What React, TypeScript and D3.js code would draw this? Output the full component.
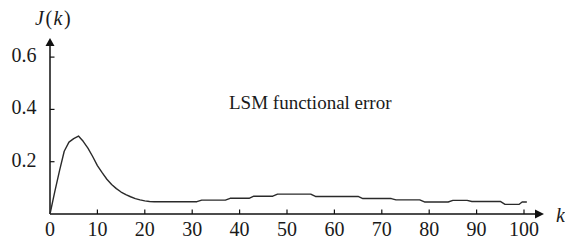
import React from "react";
import * as d3 from "d3";

const kVals = [0, 1, 2, 3, 4, 5, 6, 7, 8, 9, 10, 11, 12, 13, 14, 15, 16, 17, 18, 19, 20, 21, 22, 31, 32, 37, 38, 42, 43, 47, 48, 55, 56, 65, 66, 72, 73, 78, 79, 84, 85, 88, 89, 95, 96, 99, 99.6, 100.6];
const jVals = [0, 0.085, 0.165, 0.24, 0.275, 0.288, 0.298, 0.278, 0.252, 0.22, 0.185, 0.158, 0.133, 0.113, 0.097, 0.084, 0.074, 0.066, 0.059, 0.054, 0.05, 0.048, 0.047, 0.047, 0.053, 0.053, 0.06, 0.06, 0.068, 0.068, 0.076, 0.076, 0.067, 0.067, 0.059, 0.059, 0.054, 0.054, 0.046, 0.046, 0.052, 0.052, 0.048, 0.048, 0.037, 0.037, 0.046, 0.046];
const xTicks = [0, 10, 20, 30, 40, 50, 60, 70, 80, 90, 100];
const yTicks = [0.2, 0.4, 0.6];
const yTickLabels = ["0.2", "0.4", "0.6"];
const curveLabel = "LSM functional error";

export default function App() {
  const W = 565, H = 242;
  const x = d3.scaleLinear().domain([0, 100]).range([50, 524]);
  const y = d3.scaleLinear().domain([0, 0.6]).range([214, 57.1]);
  const pts: [number, number][] = kVals.map((k, i) => [k, jVals[i]]);
  const line = d3.line<[number, number]>().x(d => x(d[0])).y(d => y(d[1]));
  const x0 = x(0), y0 = y(0);
  const ff = "Liberation Serif";
  return (
    <svg width={W} height={H} fontFamily={ff} style={{ position: "absolute", left: 0, top: 0, background: "#fff", fontFamily: ff }}>
      <line x1={x0} y1={y0} x2={537} y2={y0} stroke="#111" strokeWidth={1.5} />
      <line x1={x0} y1={y0} x2={x0} y2={46} stroke="#111" strokeWidth={1.5} />
      <path d={`M${x0 - 4.5},${46} L${x0},${38} L${x0 + 4.5},${46} Z`} fill="#111" />
      <path d={`M535,${y0 - 4.5} L544,${y0} L535,${y0 + 4.5} Z`} fill="#111" />
      {xTicks.filter(t => t > 0).map(t => (
        <line key={"xt" + t} x1={x(t)} x2={x(t)} y1={y0} y2={y0 - 4.5} stroke="#111" strokeWidth={1.2} />
      ))}
      {xTicks.map(t => (
        <text key={"xl" + t} x={x(t)} y={236} fontFamily={ff} fontSize={20} fill="#1a1a1a" textAnchor="middle">{t}</text>
      ))}
      {yTicks.map(t => (
        <line key={"yt" + t} x1={x0} x2={x0 + 4.5} y1={y(t)} y2={y(t)} stroke="#111" strokeWidth={1.2} />
      ))}
      {yTicks.map((t, i) => (
        <text key={"yl" + t} x={36.5} y={y(t) + 5} fontFamily={ff} fontSize={20} fill="#1a1a1a" textAnchor="end">{yTickLabels[i]}</text>
      ))}
      <text x={35} y={25} fontFamily={ff} fontSize={20} fill="#1a1a1a" letterSpacing={1.5}>
        <tspan fontStyle="italic">J</tspan>(<tspan fontStyle="italic">k</tspan>)
      </text>
      <text x={556} y={222} fontFamily={ff} fontSize={20} fontStyle="italic" fill="#1a1a1a">k</text>
      <text x={229} y={109} fontFamily={ff} fontSize={19} fill="#1a1a1a">{curveLabel}</text>
      <path d={line(pts) || ""} fill="none" stroke="#2a2a2a" strokeWidth={1.4} strokeLinejoin="round" />
    </svg>
  );
}
